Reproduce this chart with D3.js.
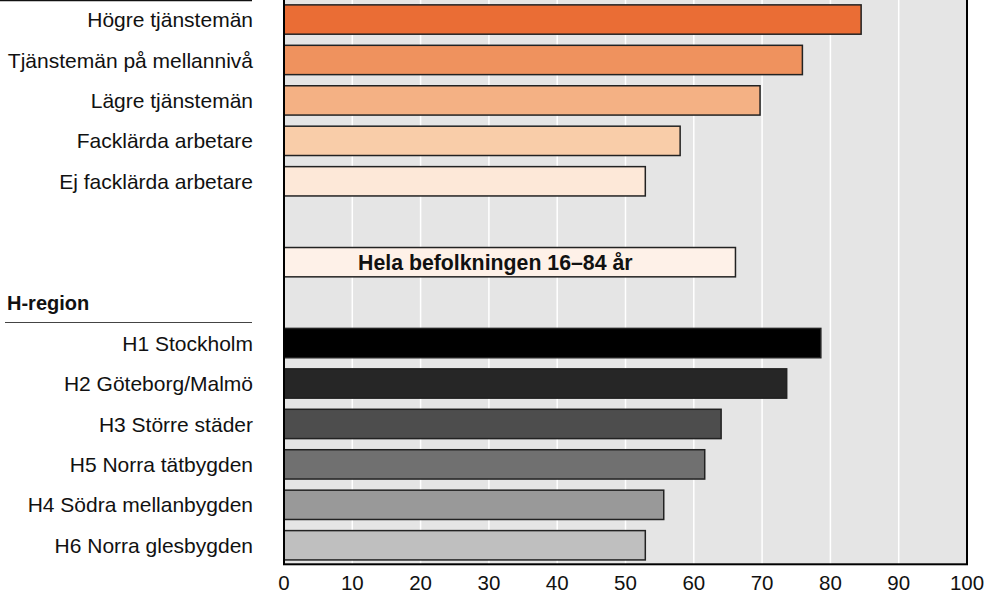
<!DOCTYPE html>
<html><head><meta charset="utf-8">
<script src="https://cdn.jsdelivr.net/npm/d3@7/dist/d3.min.js"></script>
<style>body{margin:0;background:#fff;}svg{display:block;font-family:"Liberation Sans",Arial,sans-serif;}</style>
</head><body><svg id="c" width="990" height="596"></svg>
<script>
const rows = ["Högre tjänstemän","Tjänstemän på mellannivå","Lägre tjänstemän","Facklärda arbetare","Ej facklärda arbetare","_gap1","Hela befolkningen 16–84 år","_gap2","H1 Stockholm","H2 Göteborg/Malmö","H3 Större städer","H5 Norra tätbygden ","H4 Södra mellanbygden","H6 Norra glesbygden"];
const values = [84.5,75.9,69.7,58.0,52.9,null,66.1,null,78.6,73.6,64.0,61.6,55.6,52.9];
const colors = ["#ea6d35","#ef925e","#f4b184","#f9cda9","#fde8d8",null,"#fef1e8",null,"#000000","#262626","#4d4d4d","#707070","#999999","#bfbfbf"];
const ticks = [0,10,20,30,40,50,60,70,80,90,100];
const groupLabel = "H-region";

const svg = d3.select("#c");
const x = d3.scaleLinear().domain([0,100]).range([284,967]);
const y = d3.scaleBand().domain(rows).range([0.5,564.3]).paddingInner(0.275).paddingOuter(0.108);

svg.append("rect").attr("x",x(0)).attr("y",-2).attr("width",x(100)-x(0)).attr("height",564.3+2).attr("fill","#e5e5e5");
svg.append("g").selectAll("line").data(ticks.filter(t=>t>0&&t<100)).join("line")
  .attr("x1",d=>x(d)).attr("x2",d=>x(d)).attr("y1",-2).attr("y2",564.3)
  .attr("stroke","#ffffff").attr("stroke-width",1.5);

const data = rows.map((r,i)=>({r,v:values[i],c:colors[i]})).filter(d=>d.v!==null);
svg.append("g").selectAll("rect").data(data).join("rect")
  .attr("x",x(0)).attr("y",d=>y(d.r)).attr("width",d=>x(d.v)-x(0)).attr("height",y.bandwidth())
  .attr("fill",d=>d.c).attr("stroke","#222").attr("stroke-width",1.5);

svg.append("rect").attr("x",x(0)).attr("y",-2).attr("width",x(100)-x(0)).attr("height",564.3+2)
  .attr("fill","none").attr("stroke","#000").attr("stroke-width",2);

const labelRows = rows.filter((r,i)=>!r.startsWith("_") && i!==6);
svg.append("g").selectAll("text").data(labelRows).join("text")
  .attr("x",253).attr("y",d=>y(d)+y.bandwidth()/2).attr("dy","0.36em")
  .attr("text-anchor","end").attr("font-size",21).attr("fill","#111")
  .text(d=>d);

svg.append("text").attr("x",x(0)+74).attr("y",y(rows[6])+y.bandwidth()/2).attr("dy","0.36em")
  .attr("font-size",21.3).attr("font-weight","bold").attr("fill","#111").text(rows[6]);

svg.append("text").attr("x",7).attr("y",310).attr("font-size",20).attr("font-weight","bold").attr("fill","#111").text(groupLabel);
svg.append("line").attr("x1",5).attr("x2",252).attr("y1",322.5).attr("y2",322.5).attr("stroke","#444").attr("stroke-width",1);
svg.append("line").attr("x1",0).attr("x2",252).attr("y1",0.5).attr("y2",0.5).attr("stroke","#111").attr("stroke-width",1.5);

svg.append("g").selectAll("text").data(ticks).join("text")
  .attr("x",d=>x(d)).attr("y",590).attr("text-anchor","middle").attr("font-size",20.5).attr("fill","#111")
  .text(d=>d);
</script></body></html>
